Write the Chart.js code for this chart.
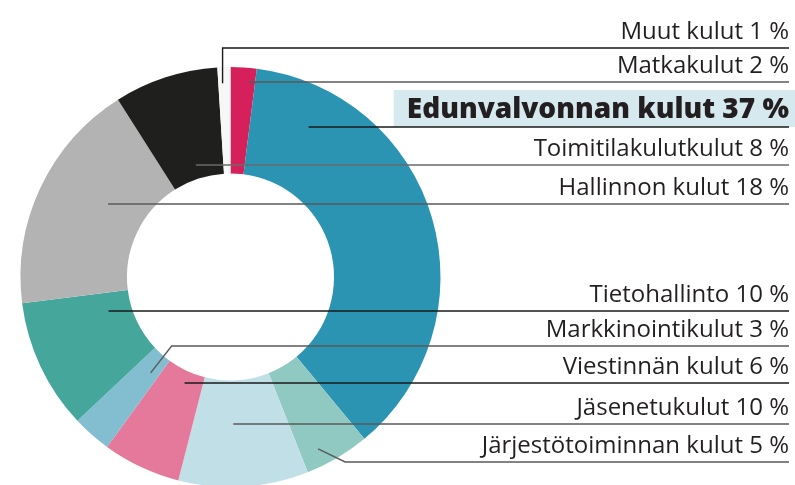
<!DOCTYPE html>
<html>
<head>
<meta charset="utf-8">
<script src="https://cdn.jsdelivr.net/npm/chart.js@4.4.1/dist/chart.umd.min.js"></script>
<style>
  html, body { margin: 0; padding: 0; background: #ffffff; overflow: hidden; }
  #wrap { width: 795px; height: 485px; position: relative; overflow: hidden; }
  #inner { width: 795px; height: 490px; position: absolute; left: 0; top: 0; }
</style>
</head>
<body>
<div id="wrap"><div id="inner"><canvas id="c"></canvas></div></div>
<script>
// ---- data (clockwise from 12 o'clock) ----
const categories = [
  "Matkakulut",
  "Edunvalvonnan kulut",
  "Järjestötoiminnan kulut",
  "Jäsenetukulut",
  "Viestinnän kulut",
  "Markkinointikulut",
  "Tietohallinto",
  "Hallinnon kulut",
  "Toimitilakulutkulut",
  "Muut kulut"
];
const shares = [2, 37, 5, 10, 6, 3, 10, 18, 8, 1];
const highlighted = "Edunvalvonnan kulut";

// ---- styles ----
const sliceColors = [
  "#d6205b", "#2b94b2", "#8fc9c2", "#c1dfe6", "#e5799b",
  "#83bed0", "#45a69c", "#b3b3b3", "#1f1f1e", "#f7f7f7"
];
// label layout (per category index): leader line y, anchor position inside slice
// angleFrac: 0..1 along the slice, radFrac: 0..1 from inner to outer radius,
// knee: horizontal offset of the bend (null = straight horizontal leader)
const labelLineY   = [82, 127, 462, 424, 383, 346, 311, 204, 165, 48];
const anchorAngle  = [0.74, 0.155, 0.7, 0.57, 0.4, 0.35, 0.75, 0.58, 0.52, 0.35];
const anchorRadius = [0.85, 0.6, 0.84, 0.42, 0.13, 0.2, 0.22, 0.36, 0.115, 0.85];
const anchorKnee   = [null, null, 27, null, null, 21, null, null, null, 0];
const lineColors   = ["#5a5a5a", "#1a1a1a", "#5a5a5a", "#5a5a5a", "#1a1a1a",
                      "#5a5a5a", "#1a1a1a", "#5a5a5a", "#6a6a6a", "#1a1a1a"];

const TEXT_RIGHT = 789;
const FONT_FAMILY = "'Open Sans', Roboto, sans-serif";

const labelPlugin = {
  id: "sideLabels",
  afterDraw(chart) {
    const ctx = chart.ctx;
    const arcs = chart.getDatasetMeta(0).data;
    ctx.save();
    categories.forEach((name, i) => {
      const a = arcs[i];
      const p = a.getProps(["x", "y", "startAngle", "endAngle", "innerRadius", "outerRadius"], true);
      const ang = p.startAngle + anchorAngle[i] * (p.endAngle - p.startAngle);
      const r = p.innerRadius + anchorRadius[i] * (p.outerRadius - p.innerRadius);
      const ax = p.x + r * Math.cos(ang);
      const ay = p.y + r * Math.sin(ang);
      const ly = labelLineY[i];
      const text = name + " " + shares[i] + " %";
      const isHi = name === highlighted;

      ctx.textAlign = "right";
      ctx.textBaseline = "alphabetic";
      if (isHi) {
        ctx.font = "800 28px " + FONT_FAMILY;
        const w = ctx.measureText(text).width;
        const bx = TEXT_RIGHT - w - 13;
        ctx.fillStyle = "#d5e9ef";
        ctx.fillRect(bx, ly - 37, 795 - bx, 37);
        ctx.fillStyle = "#231f20";
        ctx.fillText(text, TEXT_RIGHT, ly - 9);
      } else {
        ctx.font = "400 24px " + FONT_FAMILY;
        ctx.fillStyle = "#231f20";
        ctx.fillText(text, TEXT_RIGHT, ly - 9);
      }

      ctx.beginPath();
      ctx.strokeStyle = lineColors[i];
      ctx.lineWidth = 1.4;
      if (anchorKnee[i] === null) {
        ctx.moveTo(ax, ly);
      } else {
        ctx.moveTo(ax, ay);
        ctx.lineTo(ax + anchorKnee[i], ly);
      }
      ctx.lineTo(TEXT_RIGHT, ly);
      ctx.stroke();
    });
    ctx.restore();
  }
};

new Chart(document.getElementById("c"), {
  type: "doughnut",
  data: {
    labels: categories,
    datasets: [{
      data: shares,
      backgroundColor: sliceColors,
      borderWidth: 0
    }]
  },
  options: {
    responsive: true,
    maintainAspectRatio: false,
    animation: false,
    cutout: "49.3%",
    rotation: 0,
    layout: { padding: { left: 20.5, right: 354.5, top: 67, bottom: 3 } },
    plugins: { legend: { display: false }, tooltip: { enabled: false } }
  },
  plugins: [labelPlugin]
});
</script>
</body>
</html>
